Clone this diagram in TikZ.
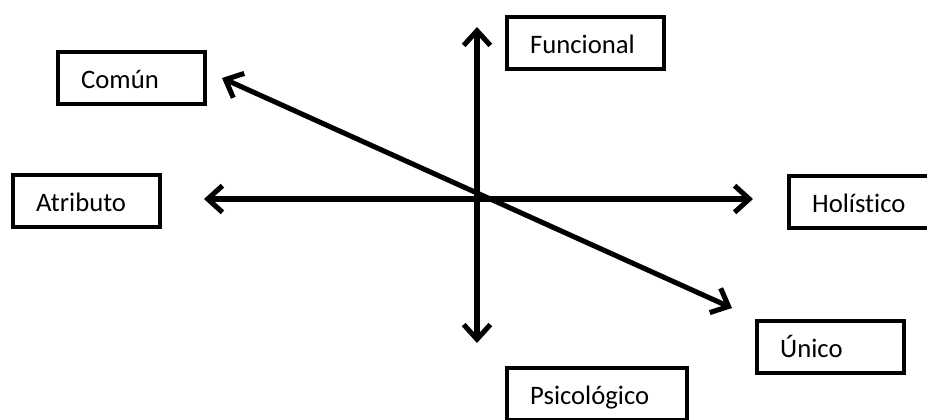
\documentclass[tikz,border=0pt]{standalone}
\usepackage{fontspec}
\setmainfont{Carlito}[Ligatures=NoCommon]
\usetikzlibrary{arrows.meta}

\begin{document}
\begin{tikzpicture}[x=0.75pt,y=-0.75pt]
  \tikzset{axis box/.style={draw,rectangle,line width=3.3pt,anchor=north west,inner xsep=17.25pt,inner ysep=0pt,
      text height=27pt,text depth=12pt,text width=#1,align=left,font=\fontsize{20}{24}\selectfont},
    axis arrow/.style={line width=3.8pt,{Straight Barb[length=11pt,width=20pt]}-{Straight Barb[length=11pt,width=20pt]}}}
  \useasboundingbox (0,0) rectangle (927,419);

  \node [axis box=75.75pt] (comun) at (56,50) {Común};
  \node [axis box=83.25pt] (funcional) at (505,15) {Funcional};
  \node [axis box=75.75pt] (atributo) at (11,173) {Atributo};
  \node [axis box=75.75pt] (holistico) at (787,174) {Holístico};
  \node [axis box=75.75pt] (unico) at (755,319) {Único};
  \node [axis box=100.5pt] (psicologico) at (505,366) {Psicológico};

  % free ends of the three axes
  \coordinate (comun end) at (222,78);
  \coordinate (unico end) at (732,308);
  \coordinate (atributo end) at (204,199);
  \coordinate (holistico end) at (753,199);
  \coordinate (funcional end) at (477,27);
  \coordinate (psicologico end) at (477,343);

  \draw [axis arrow] (atributo end) -- (holistico end);
  \draw [axis arrow] (funcional end) -- (psicologico end);
  \draw [axis arrow] (comun end) -- (unico end);
\end{tikzpicture}
\end{document}
